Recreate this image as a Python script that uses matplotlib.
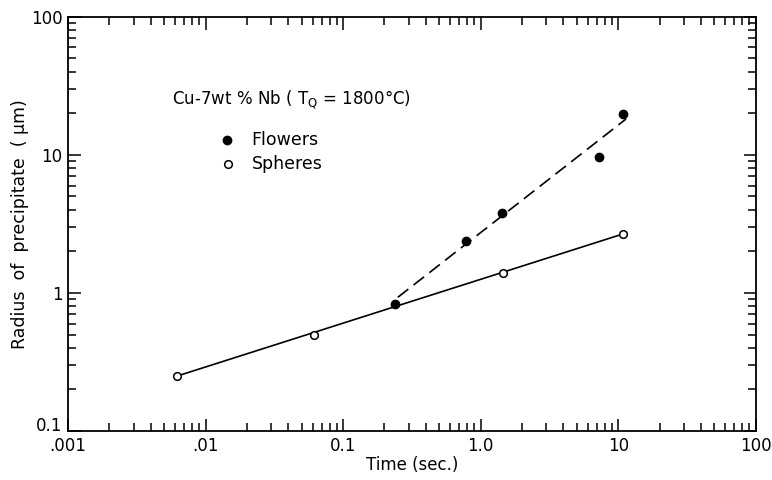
import numpy as np
import matplotlib
matplotlib.use('Agg')
import matplotlib.pyplot as plt
from matplotlib.ticker import FixedLocator, FixedFormatter, LogLocator, NullFormatter

# data
flower_time = [0.24, 0.78, 1.43, 7.3, 10.9]
flower_radius = [0.83, 2.38, 3.8, 9.7, 19.8]
sphere_time = [0.0062, 0.061, 1.45, 10.9]
sphere_radius = [0.25, 0.50, 1.40, 2.68]

# fitted lines (end points)
flower_fit_time = [0.25, 11.4]
flower_fit_radius = [0.93, 18.2]
sphere_fit_time = [0.0062, 10.9]
sphere_fit_radius = [0.25, 2.68]

xticks = [0.001, 0.01, 0.1, 1.0, 10, 100]
xticklabels = ['.001', '.01', '0.1', '1.0', '10', '100']
yticks = [0.1, 1, 10, 100]
yticklabels = ['0.1', '1', '10', '100']

plt.rcParams['font.family'] = ['DejaVu Sans']

fig = plt.figure(figsize=(7.72, 4.8), dpi=100)
ax = fig.add_axes([0.088, 0.102, 0.891, 0.863])

ax.set_xscale('log')
ax.set_yscale('log')
ax.set_xlim(0.001, 100)
ax.set_ylim(0.1, 100)

ax.plot(sphere_fit_time, sphere_fit_radius, color='black', lw=1.2, zorder=2)
ax.plot(flower_fit_time, flower_fit_radius, color='black', lw=1.2,
        dashes=(8, 4), zorder=2)

ax.plot(sphere_time, sphere_radius, 'o', ms=5.5, mfc='white', mec='black',
        mew=1.1, ls='none', zorder=3)
ax.plot(flower_time, flower_radius, 'o', ms=6, color='black', ls='none', zorder=3)

ax.xaxis.set_major_locator(FixedLocator(xticks))
ax.xaxis.set_major_formatter(FixedFormatter(xticklabels))
ax.yaxis.set_major_locator(FixedLocator(yticks))
ax.yaxis.set_major_formatter(FixedFormatter(yticklabels))
ax.xaxis.set_minor_locator(LogLocator(base=10, subs=np.arange(2, 10)))
ax.yaxis.set_minor_locator(LogLocator(base=10, subs=np.arange(2, 10)))
ax.xaxis.set_minor_formatter(NullFormatter())
ax.yaxis.set_minor_formatter(NullFormatter())

ax.tick_params(which='both', direction='in', top=True, right=True, width=1.1)
ax.tick_params(which='major', length=9, labelsize=12, pad=4)
ax.tick_params(which='minor', length=5.5)
for s in ax.spines.values():
    s.set_linewidth(1.3)

# lift the bottom y label a little so it clears ".001"
ax.yaxis.get_major_ticks()[0].label1.set_verticalalignment('baseline')

ax.set_xlabel('Time (sec.)', fontsize=12, labelpad=1)
ax.set_ylabel('Radius  of  precipitate  ( μm)', fontsize=12.5, labelpad=1)

ax.text(0.151, 0.80, r'Cu-7wt % Nb ( T$_\mathrm{Q}$ = 1800°C)', fontsize=12,
        transform=ax.transAxes, va='center', ha='left')
ax.plot([0.231], [0.703], 'o', ms=6, color='black', transform=ax.transAxes,
        clip_on=False)
ax.plot([0.233], [0.645], 'o', ms=5.5, mfc='white', mec='black', mew=1.1,
        transform=ax.transAxes, clip_on=False)
ax.text(0.267, 0.703, 'Flowers', fontsize=12.5, transform=ax.transAxes,
        va='center', ha='left')
ax.text(0.267, 0.645, 'Spheres', fontsize=12.5, transform=ax.transAxes,
        va='center', ha='left')

fig.savefig('out.png', dpi=100)
